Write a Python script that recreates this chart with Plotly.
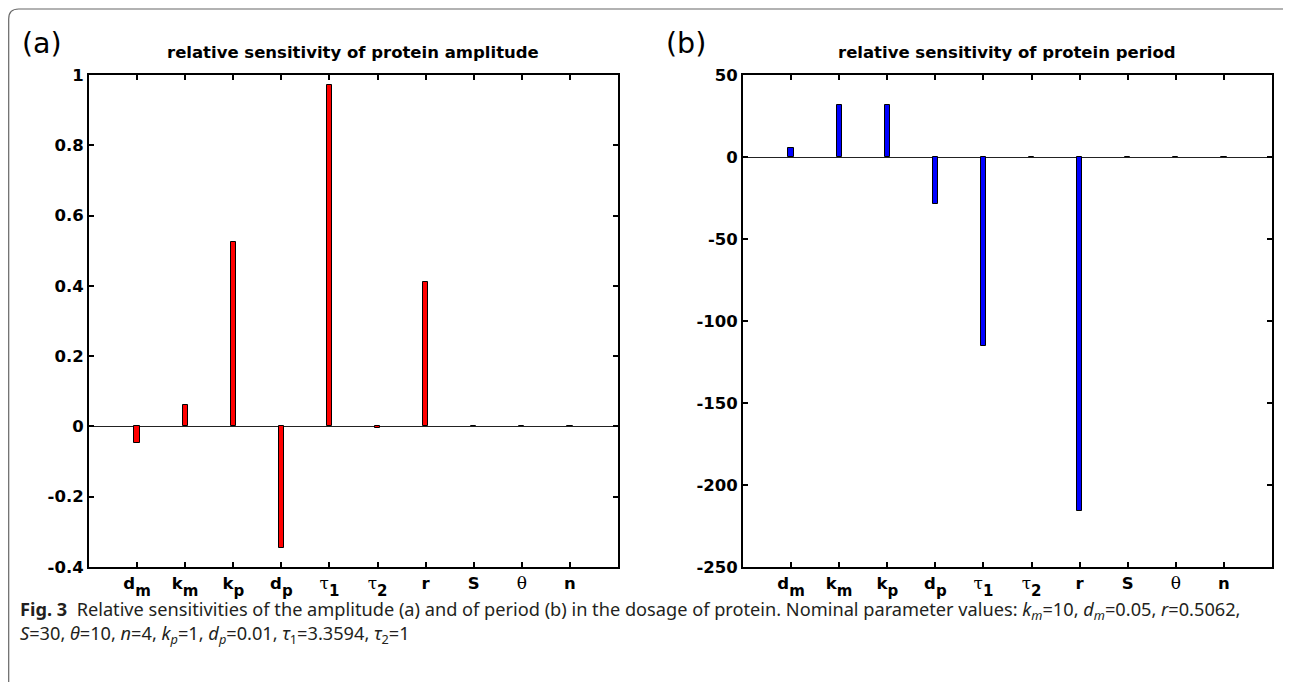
import plotly.graph_objects as go

# The page body adds an 8px offset; the figure is sized so it ends at the window edge.
OFF = 8
FW, FH = 1291 - OFF, 682 - OFF

# ---------------- data ----------------
categories = ["dm", "km", "kp", "dp", "tau1", "tau2", "r", "S", "theta", "n"]
SERIF = "font-family:'DejaVu Serif';font-weight:normal;font-size:17px"
SUB = "font-size:15px;baseline-shift:-3.5px"
tick_labels = [
    "<b>d<sub><span style='%s'>m</span></sub></b>" % SUB,
    "<b>k<sub><span style='%s'>m</span></sub></b>" % SUB,
    "<b>k<sub><span style='%s'>p</span></sub></b>" % SUB,
    "<b>d<sub><span style='%s'>p</span></sub></b>" % SUB,
    "<span style=\"%s\">τ</span><b><sub><span style='%s'>1</span></sub></b>" % (SERIF, SUB),
    "<span style=\"%s\">τ</span><b><sub><span style='%s'>2</span></sub></b>" % (SERIF, SUB),
    "<b>r</b>",
    "<b>S</b>",
    "<span style=\"%s\">θ</span>" % SERIF,
    "<b>n</b>",
]
amplitude_sens = [-0.046, 0.06, 0.525, -0.347, 0.971, -0.004, 0.41, 0.0, 0.0, 0.0]
period_sens = [5.5, 32.0, 32.0, -28.7, -115.0, 0.0, -216.0, 0.0, 0.0, 0.0]

amp_ticks = [-0.4, -0.2, 0, 0.2, 0.4, 0.6, 0.8, 1]
amp_ticktext = ["-0.4", "-0.2", "0", "0.2", "0.4", "0.6", "0.8", "1"]
per_ticks = [-250, -200, -150, -100, -50, 0, 50]
per_ticktext = ["-250", "-200", "-150", "-100", "-50", "0", "50"]

# ---------------- helpers (reference pixel -> paper) ----------------
def px(x):
    return (x - OFF) / FW

def py(y):
    return 1 - (y - OFF) / FH

SANS = "DejaVu Sans, Liberation Sans, sans-serif"
TICKFONT = dict(family=SANS, size=16.5, color="black")

fig = go.Figure()
fig.add_trace(go.Bar(
    x=categories, y=amplitude_sens, width=0.11,
    marker=dict(color="#ff0000", line=dict(color="black", width=1)),
    xaxis="x", yaxis="y", showlegend=False,
))
fig.add_trace(go.Bar(
    x=categories, y=period_sens, width=0.11,
    marker=dict(color="#0000ff", line=dict(color="black", width=1)),
    xaxis="x2", yaxis="y2", showlegend=False,
))

axis_common = dict(
    showline=True, linecolor="black", linewidth=2, mirror="ticks",
    ticks="inside", ticklen=5, tickwidth=2, tickcolor="black",
    showgrid=False, tickfont=TICKFONT, automargin=False,
)

ydom = [py(567), py(75)]
fig.update_layout(
    width=FW, height=FH,
    margin=dict(l=0, r=0, t=0, b=0, pad=0),
    paper_bgcolor="white", plot_bgcolor="white",
    bargap=0,
    xaxis=dict(domain=[px(89), px(618)], anchor="y", type="category",
               categoryorder="array", categoryarray=categories,
               range=[-1, 10], tickvals=categories, ticktext=tick_labels,
               zeroline=False, **axis_common),
    yaxis=dict(domain=ydom, anchor="x", range=[-0.4, 1],
               tickvals=amp_ticks, ticktext=["<b>%s</b>" % t for t in amp_ticktext],
               zeroline=True, zerolinecolor="#222222", zerolinewidth=1,
               **axis_common),
    xaxis2=dict(domain=[px(743), px(1272)], anchor="y2", type="category",
                categoryorder="array", categoryarray=categories,
                range=[-1, 10], tickvals=categories, ticktext=tick_labels,
                zeroline=False, **axis_common),
    yaxis2=dict(domain=ydom, anchor="x2", range=[-250, 50],
                tickvals=per_ticks, ticktext=["<b>%s</b>" % t for t in per_ticktext],
                zeroline=True, zerolinecolor="#222222", zerolinewidth=1,
                **axis_common),
)

annotations = [
    dict(text="<b>relative sensitivity of protein amplitude</b>",
         x=px(353), y=py(52), xanchor="center", yanchor="middle",
         font=dict(family=SANS, size=16.5, color="black")),
    dict(text="<b>relative sensitivity of protein period</b>",
         x=px(1007), y=py(52), xanchor="center", yanchor="middle",
         font=dict(family=SANS, size=16.5, color="black")),
    dict(text="(a)", x=px(20), y=py(44), xanchor="left", yanchor="middle",
         font=dict(family=SANS, size=28.5, color="black")),
    dict(text="(b)", x=px(664), y=py(44), xanchor="left", yanchor="middle",
         font=dict(family=SANS, size=28.5, color="black")),
    dict(text="<b>Fig. 3</b>  Relative sensitivities of the amplitude (a) and of period (b) in the dosage of protein. "
              "Nominal parameter values: <i>k</i><sub><i>m</i></sub>=10, <i>d</i><sub><i>m</i></sub>=0.05, <i>r</i>=0.5062,",
         x=px(18), y=py(610), xanchor="left", yanchor="middle",
         font=dict(family="Noto Sans, sans-serif", size=18.2, color="#231f20")),
    dict(text="<i>S</i>=30, <i>θ</i>=10, <i>n</i>=4, <i>k</i><sub><i>p</i></sub>=1, <i>d</i><sub><i>p</i></sub>=0.01, "
              "<i>τ</i><sub>1</sub>=3.3594, <i>τ</i><sub>2</sub>=1",
         x=px(18), y=py(634), xanchor="left", yanchor="middle",
         font=dict(family="Noto Sans, sans-serif", size=18.2, color="#231f20")),
]
for a in annotations:
    a.update(xref="paper", yref="paper", showarrow=False)
fig.update_layout(annotations=annotations)

# outer rounded frame (extends beyond right/bottom edges)
r = 10
x0 = OFF + 0.7
y0 = 9
path = (f"M {px(x0)},{py(700)} L {px(x0)},{py(y0 + r)} "
        f"Q {px(x0)},{py(y0)} {px(x0 + r)},{py(y0)} "
        f"L {px(1300)},{py(y0)}")
fig.add_shape(type="path", path=path, xref="paper", yref="paper",
              line=dict(color="#666666", width=1.2))

fig.write_html("out.html")
